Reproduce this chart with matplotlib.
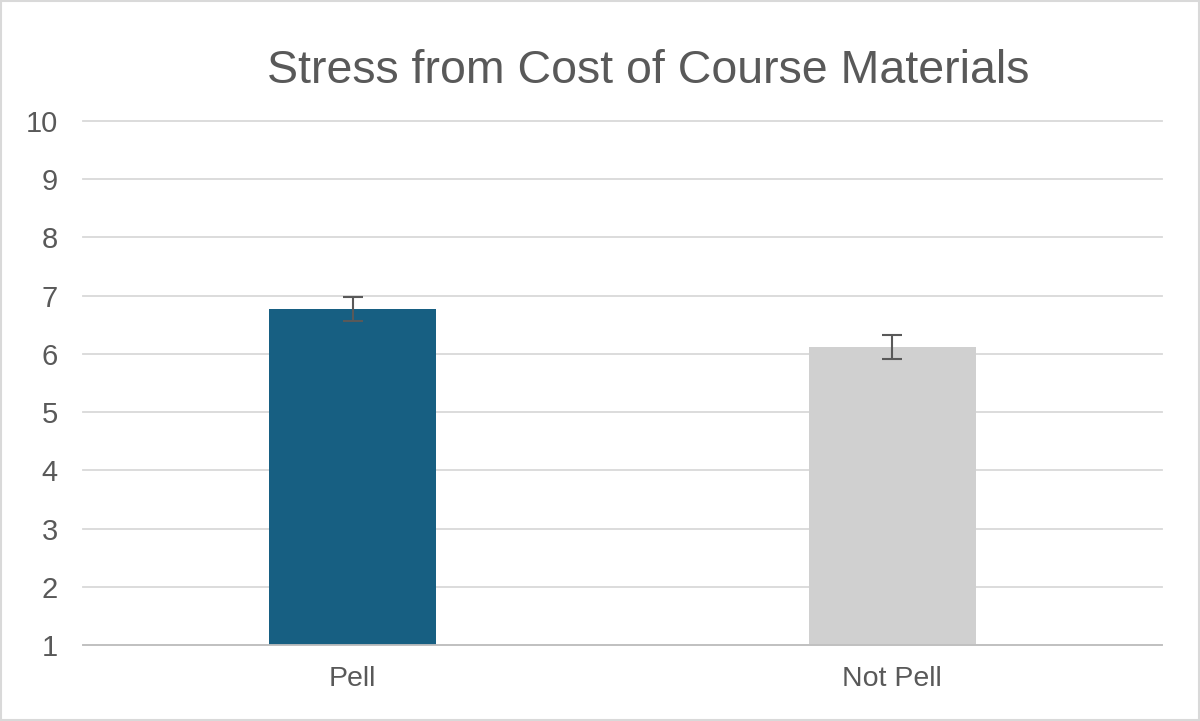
import matplotlib
matplotlib.use("Agg")
import matplotlib.pyplot as plt
from matplotlib.patches import Rectangle

categories = ["Pell", "Not Pell"]
means = [6.77, 6.12]
errors = [0.2, 0.2]
bar_colors = ["#175F82", "#D0D0D0"]
yticks = list(range(1, 11))

plt.rcParams["font.family"] = ["Liberation Sans", "DejaVu Sans"]
text_color = "#595959"

fig = plt.figure(figsize=(12, 7.21), dpi=100)
ax = fig.add_axes([83 / 1200, 1 - 645 / 721, (1162 - 83) / 1200, (645 - 121) / 721])

x = list(range(len(categories)))
ax.bar(x, [m - 1 for m in means], bottom=1, width=0.31, color=bar_colors, zorder=2)
ax.errorbar(x, means, yerr=errors, fmt="none", ecolor="#595959",
            elinewidth=1.5, capsize=7, capthick=1.5, zorder=3)

ax.set_xlim(-0.5, 1.5)
ax.set_ylim(1, 10)
ax.set_yticks(yticks)
ax.set_xticks(x)
ax.set_xticklabels(categories)
ax.tick_params(axis="y", length=0, labelsize=21, colors=text_color, pad=18)
ax.tick_params(axis="x", length=0, labelsize=20.5, colors=text_color, pad=15)
ax.grid(axis="y", color="#D9D9D9", linewidth=1.3, zorder=0)
for gl in ax.get_ygridlines():
    gl.set_clip_on(False)
for s in ["top", "right", "left"]:
    ax.spines[s].set_visible(False)
ax.spines["bottom"].set_color("#BFBFBF")
ax.spines["bottom"].set_linewidth(1.3)
ax.spines["bottom"].set_zorder(4)

fig.text(648 / 1200, 1 - 83 / 721, "Stress from Cost of Course Materials",
         ha="center", va="baseline", fontsize=33.5, color=text_color)

fig.patches.append(Rectangle((0.001, 0.001), 0.998, 0.998, transform=fig.transFigure,
                             fill=False, edgecolor="#D9D9D9", linewidth=1.5))

fig.savefig("out.png", dpi=100)
